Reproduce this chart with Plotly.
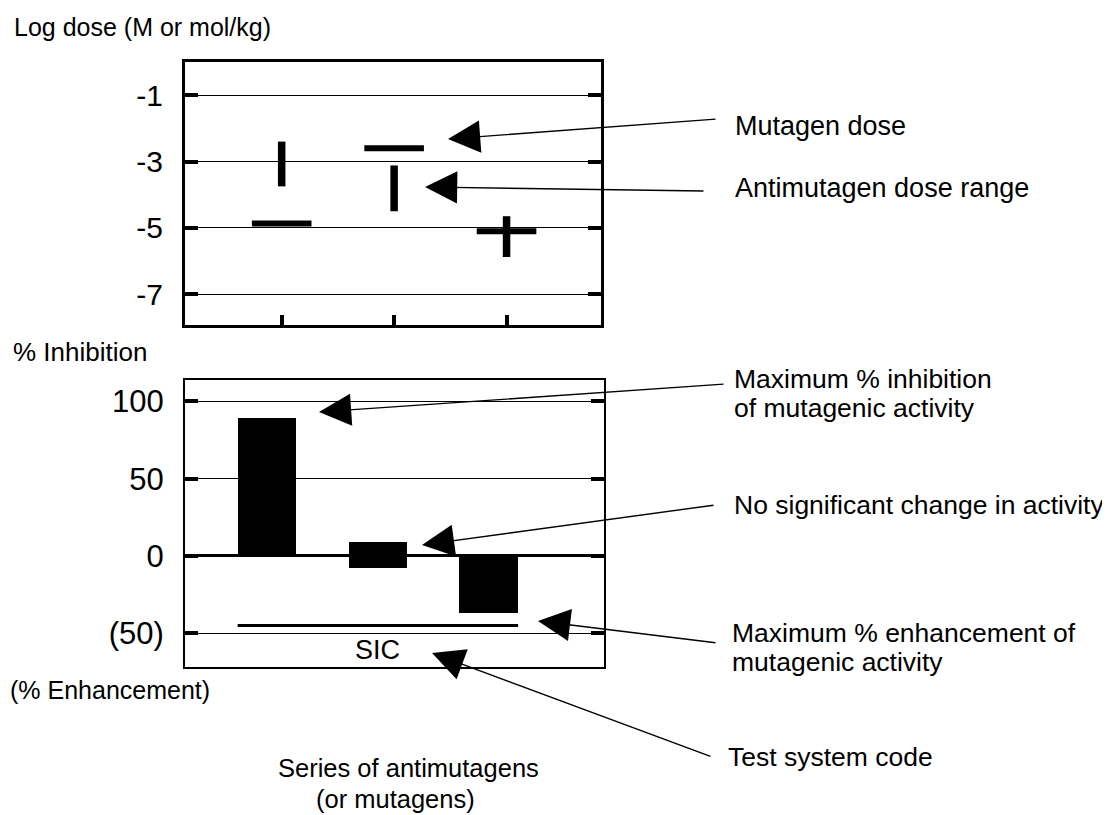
import plotly.graph_objects as go

W, H = 1110, 815
OFF = 8                      # default page margin of the html body
FW, FH = W - OFF, H - OFF    # figure size so that it fits the window
FONT = "Liberation Sans, Arial, Helvetica, sans-serif"

# ---------------- data ----------------
series_pos = [1, 2, 3]                      # series of antimutagens
mutagen_dose = [-4.87, -2.6, -5.1]          # log dose of mutagen
antimut_low = [-3.75, -4.5, -5.88]          # antimutagen dose range (low)
antimut_high = [-2.4, -3.12, -4.65]         # antimutagen dose range (high)
top_tickvals = [-1, -3, -5, -7]
top_ticktext = ["-1", "-3", "-5", "-7"]

bar_low = [0, -8, -37]                      # % inhibition bar bottoms
bar_high = [89, 9, 0]                       # % inhibition bar tops
sic_level = -45
sic_label = "SIC"
bot_tickvals = [100, 50, 0, -50]
bot_ticktext = ["100", "50", "0", "(50)"]

HALF = 0.265      # half width of mutagen-dose marks / bars (x units)

fig = go.Figure()

# antimutagen dose ranges (vertical)
vx, vy = [], []
for p, lo, hi in zip(series_pos, antimut_low, antimut_high):
    vx += [p, p, None]
    vy += [lo, hi, None]
fig.add_trace(go.Scatter(x=vx, y=vy, mode="lines", line=dict(color="black", width=7.5),
                         xaxis="x", yaxis="y", hoverinfo="skip", showlegend=False))

# mutagen dose (horizontal)
hx, hy = [], []
for p, d in zip(series_pos, mutagen_dose):
    hx += [p - HALF, p + HALF, None]
    hy += [d, d, None]
fig.add_trace(go.Scatter(x=hx, y=hy, mode="lines", line=dict(color="black", width=6),
                         xaxis="x", yaxis="y", hoverinfo="skip", showlegend=False))

# % inhibition bars
fig.add_trace(go.Bar(x=series_pos, y=[h - l for h, l in zip(bar_high, bar_low)], base=bar_low,
                     width=2 * HALF, marker=dict(color="black", line=dict(width=0)),
                     xaxis="x2", yaxis="y2", showlegend=False))

# test system code line
fig.add_trace(go.Scatter(x=[series_pos[0] - HALF, series_pos[-1] + HALF], y=[sic_level, sic_level],
                         mode="lines", line=dict(color="black", width=3),
                         xaxis="x2", yaxis="y2", hoverinfo="skip", showlegend=False))


def px_x(v):
    return (v - OFF) / FW


def px_y(v):
    return 1 - (v - OFF) / FH


annotations = []


def text(t, x, y, anchor="left", size=26):
    annotations.append(dict(text=t, x=px_x(x), y=px_y(y), xref="paper", yref="paper",
                            xanchor=anchor, yanchor="middle", showarrow=False,
                            font=dict(size=size, color="black", family=FONT)))


text("Log dose (M or mol/kg)", 12, 27, size=25)
text("% Inhibition", 11, 352)
text("(% Enhancement)", 8, 690, size=25)
text("Series of antimutagens", 408, 768, anchor="center", size=25.5)
text("(or mutagens)", 395, 799, anchor="center", size=25.5)
text("Mutagen dose", 733, 126, size=27)
text("Antimutagen dose range", 733, 188, size=27)
text("Maximum % inhibition", 732, 379, size=26.5)
text("of mutagenic activity", 732, 408, size=26.5)
text("No significant change in activity", 732, 505, size=26.5)
text("Maximum % enhancement of", 730, 633, size=26.5)
text("mutagenic activity", 730, 662, size=26.5)
text("Test system code", 726, 757, size=26.5)

# SIC label inside lower panel
annotations.append(dict(text=sic_label, x=2, y=-61, xref="x2", yref="y2", showarrow=False,
                        xanchor="center", yanchor="middle",
                        font=dict(size=27, color="black", family=FONT)))

# arrows: (tip_x, tip_y, tail_x, tail_y) in pixels
arrows = [
    (448, 139, 717, 119),
    (425, 187, 705, 191),
    (319, 412, 725, 384),
    (422, 545, 715, 505),
    (538, 621, 717, 643),
    (432, 653, 712, 757),
]
for tx, ty, sx, sy in arrows:
    annotations.append(dict(text="", x=px_x(tx), y=px_y(ty), xref="paper", yref="paper",
                            ax=sx - tx, ay=sy - ty, axref="pixel", ayref="pixel",
                            showarrow=True, arrowhead=2, arrowsize=4.6, arrowwidth=1.4,
                            arrowcolor="black", standoff=0))

fig.update_layout(
    width=FW, height=FH,
    margin=dict(l=0, r=0, t=0, b=0),
    paper_bgcolor="white", plot_bgcolor="white",
    font=dict(family=FONT, color="black"),
    showlegend=False,
    bargap=0,
    annotations=annotations,
    xaxis=dict(domain=[px_x(185), px_x(601)], range=[0.14, 3.84], anchor="y",
               showline=True, linewidth=3, linecolor="black", mirror=True,
               ticks="inside", tickvals=series_pos, ticklen=10, tickwidth=4, tickcolor="black",
               showticklabels=False, showgrid=False, zeroline=False, fixedrange=True),
    yaxis=dict(domain=[px_y(325), px_y(62)], range=[-7.93, 0], anchor="x",
               showline=True, linewidth=3, linecolor="black", mirror="ticks",
               ticks="inside", tickvals=top_tickvals, ticktext=top_ticktext,
               ticklen=13, tickwidth=4, tickcolor="black",
               tickfont=dict(size=30, family=FONT, color="black"), ticklabelstandoff=13,
               showgrid=True, gridcolor="black", gridwidth=1, zeroline=False, fixedrange=True),
    xaxis2=dict(domain=[px_x(185), px_x(604)], range=[0.26, 4.04], anchor="y2",
                showline=True, linewidth=2, linecolor="black", mirror=True,
                ticks="", showticklabels=False, showgrid=False, zeroline=False, fixedrange=True),
    yaxis2=dict(domain=[px_y(667), px_y(380)], range=[-71.8, 113.8], anchor="x2",
                showline=True, linewidth=2, linecolor="black", mirror="ticks",
                ticks="inside", tickvals=bot_tickvals, ticktext=bot_ticktext,
                ticklen=13, tickwidth=4, tickcolor="black",
                tickfont=dict(size=31, family=FONT, color="black"), ticklabelstandoff=13,
                showgrid=True, gridcolor="black", gridwidth=1,
                zeroline=True, zerolinecolor="black", zerolinewidth=3, fixedrange=True),
)

fig.write_html("out.html")
